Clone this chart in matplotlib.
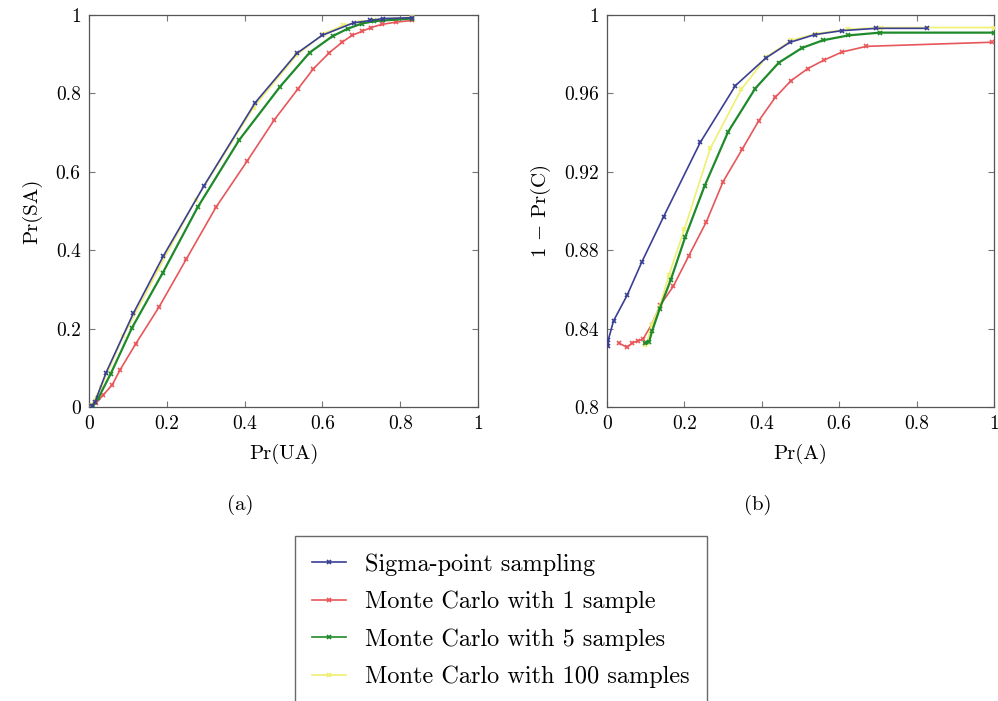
import numpy as np
import matplotlib
matplotlib.use("Agg")
import matplotlib.pyplot as plt
from matplotlib.lines import Line2D

plt.rcParams['font.family'] = 'serif'
plt.rcParams['font.serif'] = ['cmr10', 'DejaVu Serif']
plt.rcParams['mathtext.fontset'] = 'cm'
plt.rcParams['axes.unicode_minus'] = False
plt.rcParams['axes.formatter.use_mathtext'] = True

# (a) Pr(UA) vs Pr(SA)
a_sigma_x = [0.007, 0.015, 0.044, 0.114, 0.191, 0.296, 0.427, 0.534, 0.599, 0.680, 0.723, 0.757, 0.830]
a_sigma_y = [0.003, 0.012, 0.088, 0.239, 0.385, 0.565, 0.776, 0.902, 0.948, 0.980, 0.986, 0.991, 0.993]

a_mc1_x = [0.007, 0.018, 0.037, 0.060, 0.080, 0.120, 0.180, 0.250, 0.326, 0.407, 0.476, 0.536,
           0.577, 0.618, 0.650, 0.676, 0.701, 0.725, 0.753, 0.790, 0.830]
a_mc1_y = [0.002, 0.010, 0.031, 0.057, 0.095, 0.161, 0.255, 0.377, 0.509, 0.628, 0.732, 0.810,
           0.863, 0.904, 0.930, 0.948, 0.958, 0.968, 0.976, 0.982, 0.986]

a_mc5_x = [0.009, 0.024, 0.056, 0.110, 0.190, 0.279, 0.386, 0.491, 0.567, 0.626, 0.665, 0.701, 0.732, 0.757, 0.830]
a_mc5_y = [0.003, 0.023, 0.085, 0.201, 0.343, 0.509, 0.681, 0.817, 0.904, 0.946, 0.965, 0.978, 0.984, 0.986, 0.991]

a_mc100_x = [0.007, 0.030, 0.088, 0.178, 0.274, 0.423, 0.533, 0.603, 0.654, 0.697, 0.732, 0.830]
a_mc100_y = [0.006, 0.048, 0.180, 0.351, 0.528, 0.764, 0.897, 0.952, 0.974, 0.982, 0.988, 0.994]

# (b) Pr(A) vs 1 - Pr(C)
b_sigma_x = [0.003, 0.003, 0.017, 0.052, 0.090, 0.146, 0.241, 0.332, 0.410, 0.472, 0.537, 0.607, 0.696, 0.827]
b_sigma_y = [0.8309, 0.834, 0.844, 0.857, 0.874, 0.897, 0.935, 0.964, 0.978, 0.986, 0.990, 0.992, 0.9932, 0.9932]

b_mc1_x = [0.031, 0.052, 0.065, 0.080, 0.093, 0.115, 0.138, 0.171, 0.211, 0.257, 0.300, 0.349,
           0.392, 0.435, 0.475, 0.519, 0.561, 0.607, 0.670, 0.994]
b_mc1_y = [0.8326, 0.8304, 0.8326, 0.8338, 0.8346, 0.842, 0.852, 0.8615, 0.877, 0.8946, 0.915, 0.9314,
           0.946, 0.958, 0.9664, 0.9727, 0.977, 0.9811, 0.984, 0.9861]

b_mc5_x = [0.097, 0.109, 0.117, 0.136, 0.165, 0.202, 0.252, 0.313, 0.383, 0.444, 0.504, 0.558, 0.624, 0.705, 1.0]
b_mc5_y = [0.8326, 0.8334, 0.839, 0.850, 0.865, 0.8866, 0.9127, 0.9404, 0.9625, 0.9757, 0.9832, 0.9871, 0.9896, 0.991, 0.991]

b_mc100_x = [0.097, 0.103, 0.115, 0.136, 0.160, 0.200, 0.267, 0.347, 0.412, 0.476, 0.541, 0.623, 0.709, 1.0]
b_mc100_y = [0.8317, 0.8326, 0.842, 0.851, 0.8674, 0.8907, 0.932, 0.962, 0.9786, 0.987, 0.9905, 0.9927, 0.9936, 0.9936]

labels = ["Sigma-point sampling", "Monte Carlo with 1 sample",
          "Monte Carlo with 5 samples", "Monte Carlo with 100 samples"]
colors = ['#3a3f94', '#e8565a', '#1f8a2a', '#eef070']

fig = plt.figure(figsize=(9.98, 7.01), dpi=100)
W, H = 998, 701
ax1 = fig.add_axes([89 / W, 1 - 407 / H, 389 / W, 392 / H])
ax2 = fig.add_axes([607 / W, 1 - 407 / H, 387 / W, 392 / H])


def style(ax):
    for s in ax.spines.values():
        s.set_color('#555555')
        s.set_linewidth(0.9)
    ax.tick_params(direction='in', top=True, right=True, length=4,
                   color='#777777', labelsize=14, pad=6)


def fmt(v):
    return '%g' % round(v, 4)


# panel (a)
series_a = [(a_sigma_x, a_sigma_y), (a_mc1_x, a_mc1_y), (a_mc5_x, a_mc5_y), (a_mc100_x, a_mc100_y)]
order = [0, 1, 3, 2]
for i in order:
    x, y = series_a[i]
    ax1.plot(x, y, color=colors[i], marker='x', markersize=3.5, lw=1.2 if i != 2 else 1.6,
             markeredgewidth=1.2, zorder=3 + (i == 0))
ax1.set_xlim(0, 1)
ax1.set_ylim(0, 1)
ticks_a = [0, 0.2, 0.4, 0.6, 0.8, 1]
ax1.set_xticks(ticks_a)
ax1.set_yticks(ticks_a)
ax1.set_xticklabels([fmt(t) for t in ticks_a])
ax1.set_yticklabels([fmt(t) for t in ticks_a])
ax1.set_xlabel("Pr(UA)", fontsize=15, labelpad=8)
ax1.set_ylabel("Pr(SA)", fontsize=15, labelpad=10)
style(ax1)

# panel (b)
series_b = [(b_sigma_x, b_sigma_y), (b_mc1_x, b_mc1_y), (b_mc5_x, b_mc5_y), (b_mc100_x, b_mc100_y)]
for i in order:
    x, y = series_b[i]
    ax2.plot(x, y, color=colors[i], marker='x', markersize=3.5, lw=1.2 if i != 2 else 1.6,
             markeredgewidth=1.2, zorder=3 + (i == 0))
ax2.set_xlim(0, 1)
ax2.set_ylim(0.8, 1)
ticks_bx = [0, 0.2, 0.4, 0.6, 0.8, 1]
ticks_by = [0.8, 0.84, 0.88, 0.92, 0.96, 1]
ax2.set_xticks(ticks_bx)
ax2.set_yticks(ticks_by)
ax2.set_xticklabels([fmt(t) for t in ticks_bx])
ax2.set_yticklabels([fmt(t) for t in ticks_by])
ax2.set_xlabel("Pr(A)", fontsize=15, labelpad=8)
ax2.set_ylabel("1 $-$ Pr(C)", fontsize=15, labelpad=8)
style(ax2)

fig.text(240 / W, 1 - 505 / H, "(a)", fontsize=15, ha='center', va='center')
fig.text(758 / W, 1 - 505 / H, "(b)", fontsize=15, ha='center', va='center')

handles = [Line2D([], [], color=c, marker='x', markersize=3, lw=1.2, markeredgewidth=1.2) for c in colors]
leg = fig.legend(handles, labels, loc='upper left', bbox_to_anchor=(295 / W, 1 - 536 / H),
                 fontsize=17.5, frameon=True, fancybox=False, edgecolor='#444444',
                 handlelength=1.4, handletextpad=0.8, labelspacing=0.62,
                 borderpad=0.7, borderaxespad=0)
leg.get_frame().set_linewidth(1.0)

fig.savefig("out.png", dpi=100)
